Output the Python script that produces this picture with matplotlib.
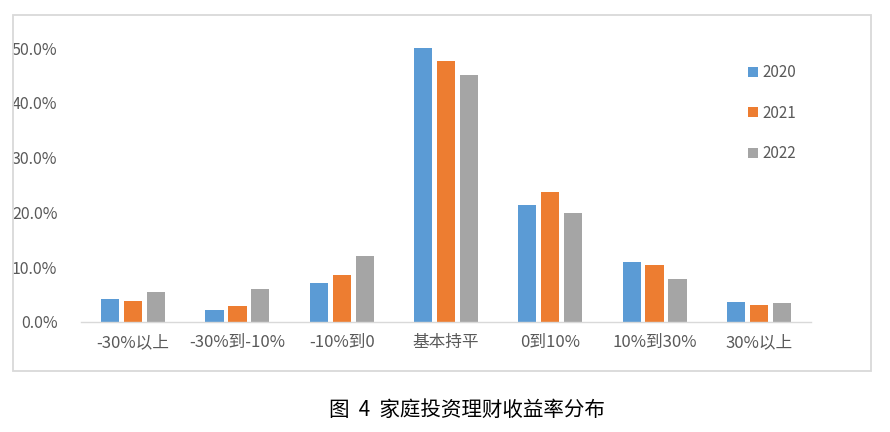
import matplotlib
matplotlib.use("Agg")
import matplotlib.pyplot as plt
from matplotlib.patches import Rectangle
import numpy as np

plt.rcParams['font.family'] = ['Noto Sans CJK SC', 'DejaVu Sans']

categories = ['-30%以上', '-30%到-10%', '-10%到0', '基本持平', '0到10%', '10%到30%', '30%以上']
series_names = ['2020', '2021', '2022']
v2020 = [4.1, 2.1, 7.0, 50.0, 21.4, 10.9, 3.6]
v2021 = [3.8, 2.9, 8.5, 47.7, 23.7, 10.3, 3.1]
v2022 = [5.4, 6.0, 12.1, 45.2, 19.8, 7.9, 3.5]
yticks = [0, 10, 20, 30, 40, 50]
colors = ['#5B9BD5', '#ED7D31', '#A5A5A5']
caption = '图  4  家庭投资理财收益率分布'

W, H = 890, 432
fig = plt.figure(figsize=(W / 100, H / 100), dpi=100)

# outer chart frame
fig.patches.append(Rectangle((13 / W, 1 - 371 / H), (871 - 13) / W, (371 - 15) / H,
                             transform=fig.transFigure, fill=False,
                             edgecolor='#D9D9D9', linewidth=1.3))

ax = fig.add_axes([81 / W, 1 - 321.7 / H, (811 - 81) / W, (321.7 - 48.3) / H])
x = np.arange(len(categories))
bw = 0.175
step = 0.22
for i, (vals, name) in enumerate(zip([v2020, v2021, v2022], series_names)):
    ax.bar(x + (i - 1) * step, vals, width=bw, color=colors[i], label=name, zorder=2)

ax.set_xlim(-0.5, len(categories) - 0.5)
ax.set_ylim(0, 50)
ax.set_yticks(yticks)
ax.set_yticklabels([f'{t:.1f}%' for t in yticks], color='#595959', fontsize=11.5)
ax.set_xticks(x)
ax.set_xticklabels(categories, color='#595959', fontsize=12)
ax.tick_params(axis='both', length=0)
ax.tick_params(axis='y', pad=17)
ax.tick_params(axis='x', pad=9)
for s in ['top', 'right', 'left']:
    ax.spines[s].set_visible(False)
ax.spines['bottom'].set_color('#D9D9D9')
ax.spines['bottom'].set_linewidth(1.0)

leg = ax.legend(loc='upper left', bbox_to_anchor=(0.905, 0.965), frameon=False,
                fontsize=11, handlelength=0.65, handleheight=0.65, handletextpad=0.3,
                labelspacing=1.55, borderaxespad=0)
for t in leg.get_texts():
    t.set_color('#595959')

fig.text(467 / W, 1 - 410 / H, caption, ha='center', va='center', fontsize=14.8, color='#000000')

fig.savefig('out.png', dpi=100)
